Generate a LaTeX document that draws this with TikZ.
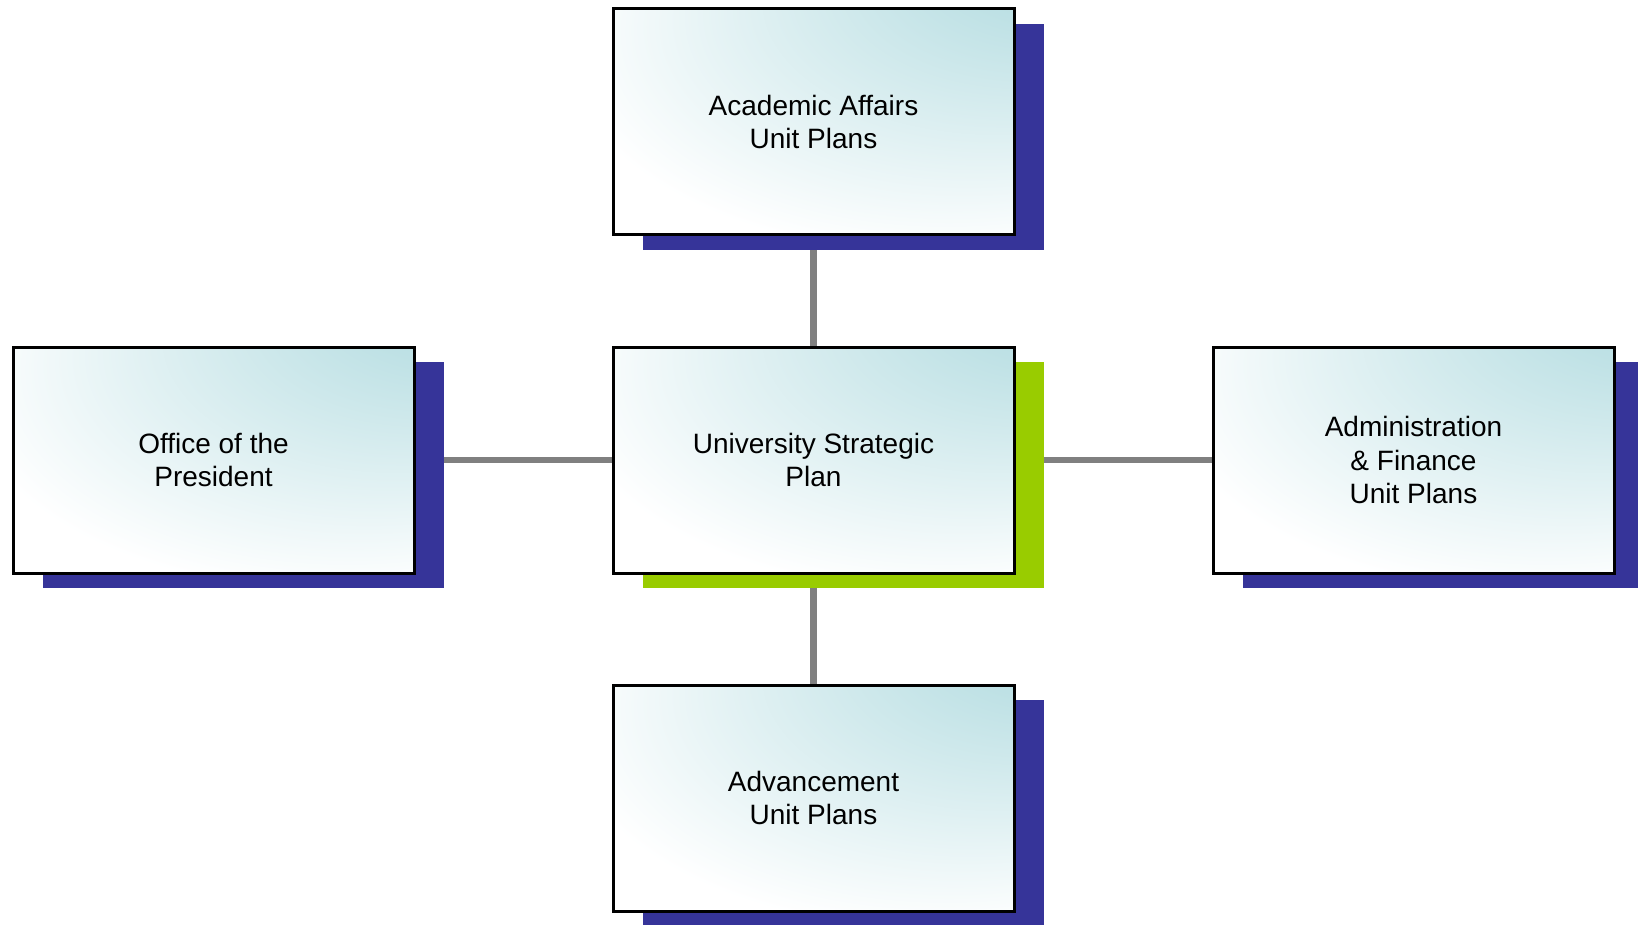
\documentclass[tikz,border=0pt]{standalone}
\usepackage{fontspec}
\setmainfont{Liberation Sans}
\usetikzlibrary{shadows,backgrounds}

\definecolor{glowteal}{RGB}{188,224,228}
\definecolor{shadowblue}{RGB}{54,52,153}
\definecolor{shadowgreen}{RGB}{153,204,0}
\definecolor{linkgray}{RGB}{128,128,128}

% soft teal glow coming from the upper right corner of each box
\pgfdeclareradialshading{boxglow}{\pgfpoint{38bp}{44bp}}{%
  color(0bp)=(glowteal); color(13bp)=(glowteal);
  color(46bp)=(white); color(75bp)=(white)}

\tikzset{
  unitbox/.style={
    rectangle, draw=black, line width=3pt,
    shading=boxglow,
    minimum width=401pt, minimum height=226pt, inner sep=0pt,
    align=center, text=black,
    font=\fontsize{28pt}{33.6pt}\selectfont,
    general shadow={fill=#1, shadow xshift=30pt, shadow yshift=-15pt}
  },
  unitbox/.default=shadowblue,
  link/.style={draw=linkgray, line width=6.5pt}
}

\begin{document}
\begin{tikzpicture}[x=1pt, y=-1pt]
  \useasboundingbox (0,0) rectangle (1638,925);

  \node[unitbox] (acad) at (813.5,122) {Academic Affairs\\Unit Plans};
  \node[unitbox=shadowgreen] (usp) at (813.5,460) {University Strategic\\Plan};
  \node[unitbox] (pres) at (213.5,460) {Office of the\\President};
  \node[unitbox] (admin) at (1413.5,460) {Administration\\\& Finance\\Unit Plans};
  \node[unitbox] (adv) at (813.5,798) {Advancement\\Unit Plans};

  \begin{scope}[on background layer]
    \draw[link] (acad.south) -- (usp.north);
    \draw[link] (usp.south) -- (adv.north);
    \draw[link] (pres.east) -- (usp.west);
    \draw[link] (usp.east) -- (admin.west);
  \end{scope}
\end{tikzpicture}
\end{document}
